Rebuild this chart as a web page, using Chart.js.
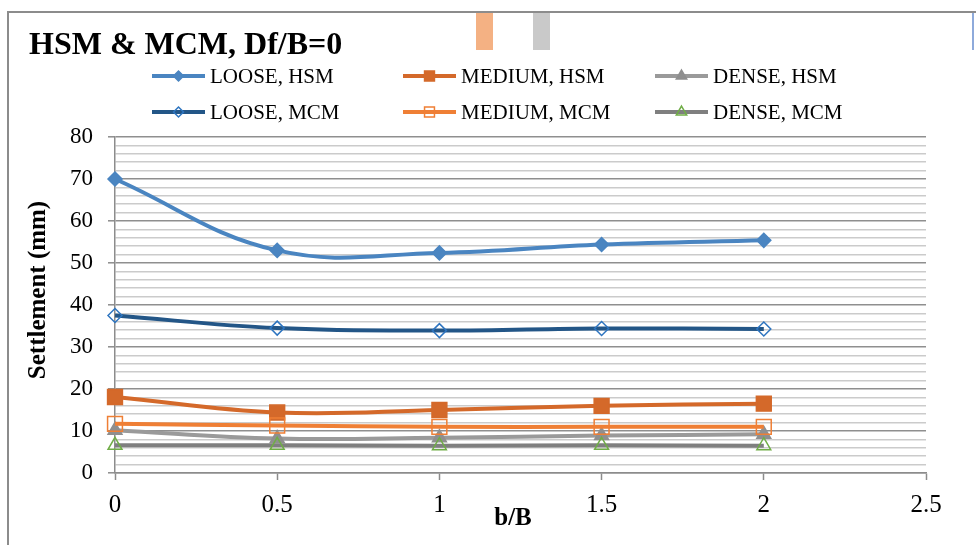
<!DOCTYPE html>
<html>
<head>
<meta charset="utf-8">
<script src="https://cdn.jsdelivr.net/npm/chart.js@4.4.0/dist/chart.umd.min.js"></script>
<style>
html, body { margin: 0; padding: 0; background: #fff; overflow: hidden; }
#wrap { position: relative; width: 976px; height: 545px; overflow: hidden; }
#frame { position: absolute; left: 7px; top: 11px; width: 1000px; height: 600px; border: 2px solid #8c8c8c; box-sizing: border-box; }
.tab { position: absolute; top: 13px; height: 37px; }
canvas { position: absolute; left: 0; top: 0; }
</style>
</head>
<body>
<div id="wrap">
  <div id="frame"></div>
  <div class="tab" style="left:476px;width:17px;background:#f4b183"></div>
  <div class="tab" style="left:533px;width:17px;background:#c9c9c9"></div>
  <div class="tab" style="left:972px;width:2px;background:#8eaadb"></div>
  <canvas id="chart" width="976" height="545"></canvas>
</div>
<script>
// b/B values on the x axis
var bB = [0, 0.5, 1, 1.5, 2];

// settlement (mm)
var looseHSM  = [70, 53, 52.4, 54.4, 55.4];
var mediumHSM = [18.1, 14.4, 15.0, 16.0, 16.5];
var denseHSM  = [10.2, 8.2, 8.4, 8.9, 9.2];
var looseMCM  = [37.5, 34.5, 33.9, 34.4, 34.3];
var mediumMCM = [11.7, 11.3, 11.0, 11.0, 11.0];
var denseMCM  = [6.6, 6.6, 6.5, 6.6, 6.5];

var seriesNames = ["LOOSE, HSM", "MEDIUM, HSM", "DENSE, HSM", "LOOSE, MCM", "MEDIUM, MCM", "DENSE, MCM"];
var xTickLabels = ["0", "0.5", "1", "1.5", "2", "2.5"];
var yTickLabels = ["0", "10", "20", "30", "40", "50", "60", "70", "80"];

var chartTitle = "HSM & MCM, Df/B=0";
var xTitle = "b/B";
var yTitle = "Settlement (mm)";

var serif = '"Liberation Serif", "Times New Roman", serif';

function pts(vals) {
  return vals.map(function (v, i) { return { x: bB[i], y: v }; });
}

function series(i, vals, line, style, radius, fill, edge, legendRadius) {
  return {
    label: seriesNames[i],
    data: pts(vals),
    borderColor: line,
    borderWidth: 4,
    tension: 0.4,
    pointStyle: style,
    pointRadius: radius,
    pointBackgroundColor: fill,
    pointBorderColor: edge,
    pointBorderWidth: 1.5,
    legendRadius: legendRadius,
    order: 5 - i,
    clip: false
  };
}

// excel style legend, title and axis titles
var decor = {
  id: 'decor',
  afterDraw: function (chart) {
    var ctx = chart.ctx;
    ctx.save();
    ctx.fillStyle = '#000';
    ctx.font = 'bold 32px ' + serif;
    ctx.textAlign = 'left';
    ctx.textBaseline = 'alphabetic';
    ctx.fillText(chartTitle, 29, 54);

    var colX = [152, 403, 655];
    var rowY = [76, 112];
    ctx.font = '21px ' + serif;
    ctx.textBaseline = 'middle';
    chart.data.datasets.forEach(function (ds, i) {
      var x0 = colX[i % 3], y = rowY[Math.floor(i / 3)];
      ctx.strokeStyle = ds.borderColor;
      ctx.lineWidth = 4;
      ctx.beginPath();
      ctx.moveTo(x0, y);
      ctx.lineTo(x0 + 53, y);
      ctx.stroke();
      ctx.fillStyle = ds.pointBackgroundColor;
      ctx.strokeStyle = ds.pointBorderColor;
      ctx.lineWidth = ds.pointBorderWidth;
      Chart.helpers.drawPoint(ctx, {
        pointStyle: ds.pointStyle, radius: ds.legendRadius, rotation: 0, borderWidth: ds.pointBorderWidth
      }, x0 + 26.5, y);
      ctx.fillStyle = '#000';
      ctx.fillText(ds.label, x0 + 58, y + 1);
    });

    ctx.font = 'bold 25px ' + serif;
    ctx.textAlign = 'center';
    ctx.fillText(xTitle, 513, 519);
    ctx.translate(39, 290);
    ctx.rotate(-Math.PI / 2);
    ctx.fillText(yTitle, 0, 0);
    ctx.restore();
  }
};

new Chart(document.getElementById('chart').getContext('2d'), {
  type: 'line',
  data: {
    datasets: [
      series(0, looseHSM,  '#4a85c1', 'rectRot',  7,    '#4a85c1', '#4a85c1', 5),
      series(1, mediumHSM, '#d4692a', 'rect',     10.5, '#d4692a', '#d4692a', 7),
      series(2, denseHSM,  '#9a9a9a', 'triangle', 8,    '#8f8f8f', '#8f8f8f', 6),
      series(3, looseMCM,  '#235687', 'rectRot',  7,    'rgba(255,255,255,0)', '#2e75c0', 5),
      series(4, mediumMCM, '#ef7f35', 'rect',     10.5, 'rgba(255,255,255,0)', '#ef7f35', 7),
      series(5, denseMCM,  '#7f7f7f', 'triangle', 8,    'rgba(255,255,255,0)', '#70ad47', 6)
    ]
  },
  options: {
    responsive: false,
    animation: false,
    layout: { padding: { left: 0, top: 137, right: 50, bottom: 0 } },
    plugins: { legend: { display: false }, tooltip: { enabled: false } },
    scales: {
      x: {
        type: 'linear',
        min: 0,
        max: 2.5,
        afterFit: function (scale) { scale.height = 72; },
        ticks: {
          stepSize: 0.5,
          padding: 10,
          color: '#000',
          font: { family: serif, size: 25 },
          callback: function (v, i) { return xTickLabels[i]; }
        },
        grid: { drawOnChartArea: false, tickLength: 7, tickColor: '#8c8c8c', tickWidth: 1.5 },
        border: { color: '#8c8c8c', width: 1.5 }
      },
      y: {
        min: 0,
        max: 80,
        afterFit: function (scale) { scale.width = 115; },
        ticks: {
          stepSize: 2,
          autoSkip: false,
          padding: 15,
          color: '#000',
          font: { family: serif, size: 23 },
          callback: function (v) { return v % 10 === 0 ? yTickLabels[v / 10] : ''; }
        },
        grid: {
          color: function (c) { return c.tick && c.tick.value % 10 === 0 ? '#8f8f8f' : '#cbcbcb'; },
          lineWidth: 1.6,
          tickLength: 7,
          tickWidth: 1.5,
          tickColor: function (c) { return c.tick && c.tick.value % 10 === 0 ? '#8c8c8c' : 'rgba(0,0,0,0)'; }
        },
        border: { color: '#8c8c8c', width: 1.5 }
      }
    }
  },
  plugins: [decor]
});
</script>
</body>
</html>
